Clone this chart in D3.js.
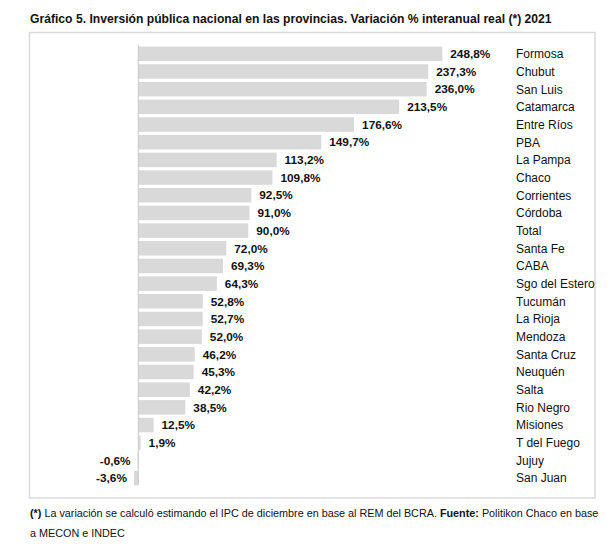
<!DOCTYPE html>
<html>
<head>
<meta charset="utf-8">
<script src="https://cdn.jsdelivr.net/npm/d3@7"></script>
<style>
  body { margin: 0; background: #fff; }
  svg { font-family: "Liberation Sans", Arial, sans-serif; }
</style>
</head>
<body>
<svg id="chart" width="616" height="555"></svg>
<script>
const provinces = ["Formosa", "Chubut", "San Luis", "Catamarca", "Entre Ríos", "PBA",
    "La Pampa", "Chaco", "Corrientes", "Córdoba", "Total", "Santa Fe", "CABA",
    "Sgo del Estero", "Tucumán", "La Rioja", "Mendoza", "Santa Cruz", "Neuquén",
    "Salta", "Rio Negro", "Misiones", "T del Fuego", "Jujuy", "San Juan"];
const variation = [248.8, 237.3, 236.0, 213.5, 176.6, 149.7, 113.2, 109.8, 92.5, 91.0,
    90.0, 72.0, 69.3, 64.3, 52.8, 52.7, 52.0, 46.2, 45.3, 42.2, 38.5, 12.5, 1.9, -0.6, -3.6];

const titleText = "Gráfico 5. Inversión pública nacional en las provincias. Variación % interanual real (*) 2021";

const data = provinces.map((p, i) => ({ name: p, value: variation[i] }));

const svg = d3.select("#chart");

svg.append("text")
    .attr("x", 30)
    .attr("y", 23)
    .attr("font-size", 12.15)
    .attr("font-weight", "bold")
    .attr("fill", "#111")
    .text(titleText);

// frame
svg.append("rect")
    .attr("x", 29.5)
    .attr("y", 32.5)
    .attr("width", 565.5)
    .attr("height", 465.5)
    .attr("fill", "none")
    .attr("stroke", "#d9d9d9")
    .attr("stroke-width", 1.5);

const x = d3.scaleLinear()
    .domain([0, 248.8])
    .range([138.3, 442.3]);

const y = d3.scaleBand()
    .domain(provinces)
    .range([45, 486.9])
    .paddingInner(0.18)
    .paddingOuter(0.09);

svg.append("g")
    .selectAll("rect")
    .data(data)
    .join("rect")
    .attr("x", d => Math.min(x(0), x(d.value)))
    .attr("y", d => y(d.name))
    .attr("width", d => Math.abs(x(d.value) - x(0)))
    .attr("height", y.bandwidth())
    .attr("fill", "#d9d9d9");

// zero line
svg.append("line")
    .attr("x1", x(0))
    .attr("x2", x(0))
    .attr("y1", y.range()[0])
    .attr("y2", y.range()[1] - 2)
    .attr("stroke", "#c8c8c8")
    .attr("stroke-width", 1);

const fmt = v => d3.format(".1f")(v).replace("−", "-").replace(".", ",") + "%";

svg.append("g")
    .selectAll("text")
    .data(data)
    .join("text")
    .attr("x", d => d.value >= 0 ? x(d.value) + 8 : x(d.value) - 7)
    .attr("y", d => y(d.name) + y.bandwidth() / 2)
    .attr("dy", "0.36em")
    .attr("text-anchor", d => d.value >= 0 ? "start" : "end")
    .attr("font-size", 11.8)
    .attr("font-weight", "bold")
    .attr("fill", "#111")
    .text(d => fmt(d.value));

svg.append("g")
    .selectAll("text")
    .data(data)
    .join("text")
    .attr("x", 516)
    .attr("y", d => y(d.name) + y.bandwidth() / 2)
    .attr("dy", "0.36em")
    .attr("font-size", 12)
    .attr("fill", "#111")
    .text(d => d.name);

// footnote
const note1 = svg.append("text")
    .attr("x", 30)
    .attr("y", 517)
    .attr("font-size", 10.8)
    .attr("fill", "#111");
note1.append("tspan").attr("font-weight", "bold").text("(*)");
note1.append("tspan").text(" La variación se calculó estimando el IPC de diciembre en base al REM del BCRA. ");
note1.append("tspan").attr("font-weight", "bold").text("Fuente:");
note1.append("tspan").text(" Politikon Chaco en base");

svg.append("text")
    .attr("x", 30)
    .attr("y", 537)
    .attr("font-size", 10.8)
    .attr("fill", "#111")
    .text("a MECON e INDEC");
</script>
</body>
</html>
